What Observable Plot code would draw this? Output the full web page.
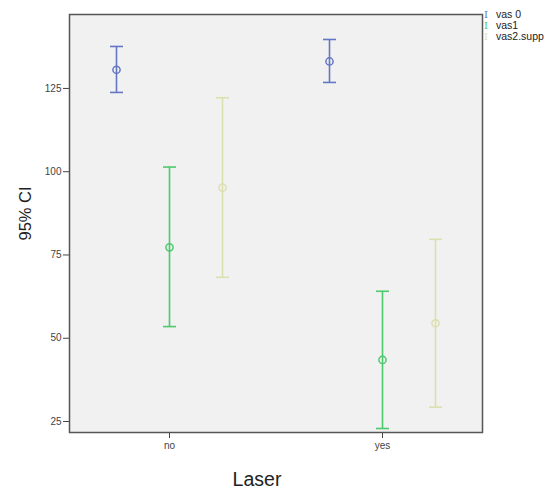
<!DOCTYPE html>
<html>
<head>
<meta charset="utf-8">
<script src="https://cdn.jsdelivr.net/npm/d3@7"></script>
<script src="https://cdn.jsdelivr.net/npm/@observablehq/plot@0.6"></script>
<style>
  body { margin: 0; background: #fff; }
  #wrap { position: relative; width: 545px; height: 493px; font-family: "Liberation Sans", Arial, sans-serif; }
  #legend { position: absolute; left: 484px; top: 9px; font-size: 10.5px; color: #222; line-height: 11px; white-space: nowrap; }
  #legend .ic { font-family: "DejaVu Serif", serif; display: inline-block; width: 12px; font-size: 10px; }
</style>
</head>
<body>
<div id="wrap"><div id="legend"></div></div>
<script>
const laser = ["no", "yes"];
const seriesNames = ["vas 0", "vas1", "vas2.supp"];
const seriesColors = ["#6477c4", "#4cca6c", "#dcdfae"];
const yTicks = [25, 50, 75, 100, 125];

const vas0Mean = [130.6, 133.1];
const vas0Low  = [123.8, 126.8];
const vas0High = [137.6, 139.7];

const vas1Mean = [77.3, 43.5];
const vas1Low  = [53.5, 22.9];
const vas1High = [101.4, 64.1];

const vas2Mean = [95.2, 54.5];
const vas2Low  = [68.3, 29.3];
const vas2High = [122.2, 79.7];

const seriesData = [
  [vas0Mean, vas0Low, vas0High],
  [vas1Mean, vas1Low, vas1High],
  [vas2Mean, vas2Low, vas2High]
];

const capSymbol = {
  draw(ctx, size) {
    const h = Math.sqrt(size / Math.PI);
    ctx.moveTo(-h, 0);
    ctx.lineTo(h, 0);
  }
};

const offsets = [-53, 0, 53];
const marks = [Plot.frame({fill: "#f1f1f1", stroke: "none"})];

seriesData.forEach(([m, lo, hi], i) => {
  const rows = laser.map((l, j) => ({laser: l, mean: m[j], low: lo[j], high: hi[j]}));
  const c = seriesColors[i];
  const dx = offsets[i];
  marks.push(
    Plot.ruleX(rows, {x: "laser", y1: "low", y2: "high", stroke: c, strokeWidth: 1.6, dx}),
    Plot.dot(rows, {x: "laser", y: "high", symbol: capSymbol, r: 6.5, stroke: c, strokeWidth: 1.6, dx}),
    Plot.dot(rows, {x: "laser", y: "low", symbol: capSymbol, r: 6.5, stroke: c, strokeWidth: 1.6, dx}),
    Plot.dot(rows, {x: "laser", y: "mean", r: 3.6, stroke: c, fill: "none", strokeWidth: 1.5, dx})
  );
});

marks.push(
  Plot.frame({stroke: "#555", strokeWidth: 1.5}),
  Plot.text(["95% CI"], {frameAnchor: "left", text: d => d, rotate: -90, dx: -44, dy: 17, fontSize: 16.5, fill: "#222"}),
  Plot.text(["Laser"], {frameAnchor: "bottom", text: d => d, dx: -19, dy: 53, fontSize: 19.5, fill: "#222"})
);

const chart = Plot.plot({
  width: 545,
  height: 493,
  marginLeft: 69,
  marginRight: 63,
  marginTop: 14,
  marginBottom: 61,
  style: {fontFamily: "Liberation Sans, Arial, sans-serif", fontSize: "10px", color: "#444", background: "#fff", overflow: "visible"},
  x: {type: "point", domain: laser, padding: 0.465, tickSize: 6, tickPadding: 3, label: null},
  y: {domain: [21.7, 147.2], ticks: yTicks, tickSize: 6, tickPadding: 2, label: null},
  marks
});

const wrap = document.getElementById("wrap");
wrap.insertBefore(chart, wrap.firstChild);

const legend = document.getElementById("legend");
seriesNames.forEach((n, i) => {
  const row = document.createElement("div");
  const ic = document.createElement("span");
  ic.className = "ic";
  ic.style.color = seriesColors[i];
  ic.textContent = "I";
  row.appendChild(ic);
  row.appendChild(document.createTextNode(n));
  legend.appendChild(row);
});
</script>
</body>
</html>
